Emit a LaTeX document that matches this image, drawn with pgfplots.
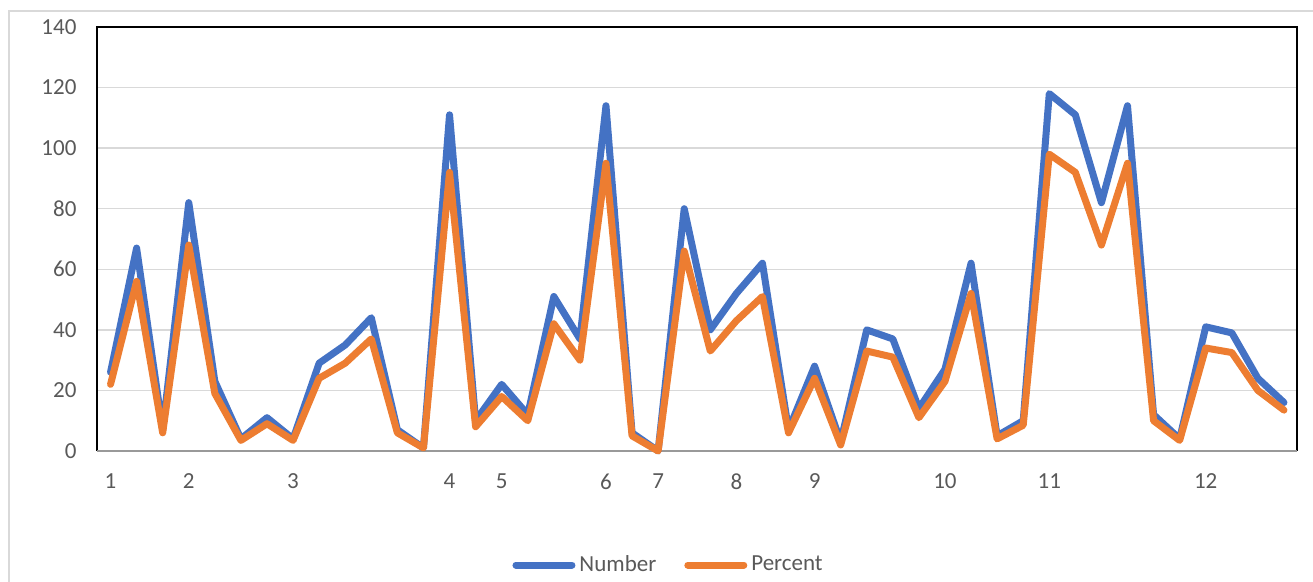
\documentclass[border=0pt]{standalone}
\usepackage{fontspec}
\setmainfont{Carlito}
\usepackage{pgfplots}
\usepackage{pgfplotstable}
\pgfplotsset{compat=1.18}

\definecolor{xlblue}{HTML}{4472C4}
\definecolor{xlorange}{HTML}{ED7D31}
\definecolor{xlgrid}{HTML}{D9D9D9}
\definecolor{xltext}{HTML}{595959}

% index, Number, Percent
\pgfplotstableread{
i N P
1 26 22
2 67 56
3 7 6
4 82 68
5 23 19
6 4 3.5
7 11 9
8 4 3.5
9 29 24
10 35 29
11 44 37
12 7 6
13 1 1
14 111 92
15 10 8
16 22 18
17 12 10
18 51 42
19 37 30
20 114 95
21 6 5
22 0 0
23 80 66
24 40 33
25 52 43
26 62 51
27 7 6
28 28 24
29 3 2
30 40 33
31 37 31
32 14 11
33 27 23
34 62 52
35 5 4
36 10 8.5
37 118 98
38 111 92
39 82 68
40 114 95
41 12 10
42 4 3.5
43 41 34
44 39 32.5
45 24 20
46 16 13.5
}\datatable

\begin{document}
\begin{tikzpicture}
\useasboundingbox (0,0) rectangle (656.5pt,291pt);
% outer chart frame
\draw[xlgrid, line width=1pt] (4.25pt,0pt) -- (4.25pt,285.5pt) -- (656.5pt,285.5pt);

\begin{axis}[
    at={(48.75pt,65.5pt)}, anchor=south west,
    scale only axis,
    width=599.75pt, height=212pt,
    xmin=0.5, xmax=46.5,
    ymin=0, ymax=140,
    ytick={0,20,...,140},
    xtick={1,4,8,14,16,20,22,25,28,33,37,43},
    xticklabels={1,2,3,4,5,6,7,8,9,10,11,12},
    major tick length=0pt,
    ymajorgrids,
    grid style={xlgrid, line width=0.75pt},
    axis line style={draw=none},
    clip=false,
    /pgf/number format/assume math mode=true,
    tick label style={font=\fontsize{11.5}{13.8}\selectfont, text=xltext},
    yticklabel style={xshift=-7pt},
    xticklabel style={yshift=-8pt},
    legend style={at={(0.4769,-0.2689)}, anchor=center, draw=none, fill=none,
        legend columns=2, font=\fontsize{11.5}{13.8}\selectfont, text=xltext,
        /tikz/every even column/.append style={column sep=12pt}},
    legend cell align=left,
    legend image code/.code={\draw[#1, line cap=round] (0pt,0pt) -- (28pt,0pt);},
]
\draw[black, line width=1pt] (rel axis cs:0,0) -- (rel axis cs:0,1) -- (rel axis cs:1,1) -- (rel axis cs:1,0);
\draw[black!40, line width=1pt] (rel axis cs:0,0) -- (rel axis cs:1,0);

\addplot[xlblue, line width=3.5pt, line join=round, line cap=round] table[x=i, y=N] {\datatable};
\addlegendentry{Number}
\addplot[xlorange, line width=3.5pt, line join=round, line cap=round] table[x=i, y=P] {\datatable};
\addlegendentry{Percent}
\end{axis}
\end{tikzpicture}
\end{document}
